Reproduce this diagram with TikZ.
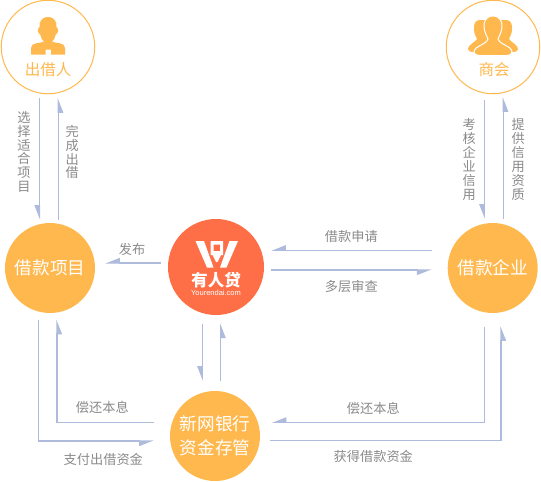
\documentclass[tikz,border=0pt]{standalone}
\usepackage{fontspec}
\setmainfont{Noto Sans CJK SC}
\setsansfont{Liberation Sans}
\usetikzlibrary{arrows.meta}
\definecolor{gold}{HTML}{FFB84D}
\definecolor{coral}{HTML}{FF6F47}
\definecolor{flowblue}{HTML}{AEBBDC}
\definecolor{labelgray}{HTML}{8A8A8A}
\begin{document}
\begin{tikzpicture}[x=1pt, y=-1pt,
	solid node/.style={circle, fill=gold, text=white, minimum size=90pt, inner sep=0pt, align=center, font=\fontsize{17.6}{24}\selectfont},
	ring node/.style={circle, draw=gold, line width=1pt, fill=white, minimum size=93.5pt, inner sep=0pt},
	ring text/.style={text=gold, inner sep=0pt, font=\fontsize{15.5}{18}\selectfont},
	flow/.style={draw=flowblue, line width=1.2pt, -{Triangle[harpoon, swap, length=13pt, width=10pt, flowblue]}},
	label/.style={text=labelgray, inner sep=0pt, align=center, font=\fontsize{13.2}{13.9}\selectfont}]
	\useasboundingbox (0, 0) rectangle (541, 482);
	% circles
	\node[ring node] (lender) at (48, 47) {};
	\node[ring node] (chamber) at (493, 47) {};
	\node[solid node] (project) at (50, 268) {借款项目};
	\node[solid node] (firm) at (492.7, 268) {借款企业};
	\node[solid node] (bank) at (215, 436) {新网银行\\资金存管};
	\node[circle, fill=coral, minimum size=96pt, inner sep=0pt] (platform) at (216, 267) {};
	\node[ring text] (lendertext) at (48, 69.5) {出借人};
	\node[ring text] (chambertext) at (494, 69.5) {商会};
	% person icon
	\fill[gold] (48, 17) .. controls (41, 17) and (39, 23) .. (39.5, 27) .. controls (37, 29) and (37.5, 33) .. (40.5, 35) .. controls (41, 38) and (42, 40) .. (44, 41.5) .. controls (41, 43.5) and (31, 42) .. (31, 48) -- (31, 54.5) -- (45.7, 54.5) -- (45.7, 49.5) -- (51, 49.5) -- (51, 54.5) -- (65, 54.5) -- (65, 48) .. controls (65, 42) and (55, 43.5) .. (52, 41.5) .. controls (54, 40) and (55, 38) .. (55.5, 35) .. controls (58.5, 33) and (59, 29) .. (56.5, 27) .. controls (57, 23) and (55, 17) .. (48, 17) -- cycle;
	% group icon
	\fill[gold] (479.5, 20) .. controls (475, 20) and (473.5, 25) .. (474, 29) .. controls (474, 34) and (476, 36) .. (477, 39) .. controls (474, 43) and (468, 45) .. (468, 49) .. controls (468, 51) and (470, 52) .. (474, 52) -- (512, 52) .. controls (516, 52) and (518, 51) .. (518, 49) .. controls (518, 45) and (512, 43) .. (509, 39) .. controls (510, 36) and (512, 34) .. (512, 29) .. controls (512.5, 25) and (511, 20) .. (506.5, 20) -- cycle;
	\fill[gold, draw=white, line width=1pt] (493, 16) .. controls (486, 16) and (483.5, 22) .. (484, 27) .. controls (484.5, 33) and (487, 36) .. (488, 39) .. controls (486, 45) and (474, 46) .. (474, 52) .. controls (474, 54) and (476, 55.5) .. (479, 55.5) -- (507, 55.5) .. controls (510, 55.5) and (512, 54) .. (512, 52) .. controls (512, 46) and (500, 45) .. (498, 39) .. controls (499, 36) and (501.5, 33) .. (502, 27) .. controls (502.5, 22) and (500, 16) .. (493, 16) -- cycle;
	% platform logo
	\fill[white] (195.5, 241) -- (204, 241) -- (213.5, 267.5) -- (207, 267.5) -- cycle;
	\fill[white] (238, 241) -- (229.5, 241) -- (220, 267.5) -- (226.5, 267.5) -- cycle;
	\fill[white, even odd rule] (210.5, 241) rectangle (223, 255) (213.5, 244.5) rectangle (220, 251);
	\fill[white] (212.5, 255) -- (221, 255) -- (217.5, 262) -- (216, 262) -- cycle;
	\node[inner sep=0pt, text=white, font=\fontsize{16.5}{18}\selectfont\bfseries] (platformname) at (216, 280) {有人贷};
	\node[inner sep=0pt, text=white, font=\fontsize{7.5}{9}\sffamily] (platformsite) at (216, 293) {Yourendai.com};
	% labels
	\node[label] (choose) at (24, 152) {选\\择\\适\\合\\项\\目};
	\node[label] (finish) at (72.3, 152) {完\\成\\出\\借};
	\node[label] (assess) at (469.3, 159.5) {考\\核\\企\\业\\信\\用};
	\node[label] (credit) at (518.3, 159.5) {提\\供\\信\\用\\资\\质};
	\node[label] (publish) at (132, 249) {发布};
	\node[label] (apply) at (351.3, 236.7) {借款申请};
	\node[label] (review) at (351.3, 286.3) {多层审查};
	\node[label] (repayl) at (102.3, 407.3) {偿还本息};
	\node[label] (pay) at (103.3, 459) {支付出借资金};
	\node[label] (repayr) at (373.3, 408.7) {偿还本息};
	\node[label] (obtain) at (373.3, 456.7) {获得借款资金};
	% connectors
	\draw[flow] ([xshift=-8.5pt, yshift=-4pt]lender.south) -- ([xshift=-10.5pt, yshift=3pt]project.north);
	\draw[flow] ([xshift=8.3pt, yshift=3pt]project.north) -- ([xshift=10.3pt, yshift=-4pt]lender.south);
	\draw[flow] ([xshift=-8.7pt, yshift=-6pt]chamber.south) -- ([xshift=-8.4pt, yshift=4pt]firm.north);
	\draw[flow] ([xshift=10.6pt, yshift=4pt]firm.north) -- ([xshift=10.3pt, yshift=-3pt]chamber.south);
	\draw[flow] ([xshift=-7pt, yshift=4pt]platform.west) -- ([xshift=10pt, yshift=5pt]project.east);
	\draw[flow] ([xshift=-16pt, yshift=17.7pt]firm.west) -- ([xshift=7pt, yshift=16.7pt]platform.east);
	\draw[flow] ([xshift=7pt, yshift=-3pt]platform.east) -- ([xshift=-16pt, yshift=-2pt]firm.west);
	\draw[flow] ([xshift=-13.7pt, yshift=-8.3pt]platform.south) -- ([xshift=-12.7pt, yshift=10pt]bank.north);
	\draw[flow] ([xshift=5.7pt, yshift=10pt]bank.north) -- ([xshift=4.7pt, yshift=-8.3pt]platform.south);
	\draw[flow] ([xshift=-16pt, yshift=13.7pt]bank.west) -| ([xshift=7pt, yshift=-6.5pt]project.south);
	\draw[flow] ([xshift=-11.7pt, yshift=-6.5pt]project.south) |- ([xshift=-16pt, yshift=-5pt]bank.west);
	\draw[flow] ([xshift=-8.4pt, yshift=-13.7pt]firm.south) |- ([xshift=11.7pt, yshift=13.7pt]bank.east);
	\draw[flow] ([xshift=10pt, yshift=-4.3pt]bank.east) -| ([xshift=8.3pt, yshift=-13pt]firm.south);
\end{tikzpicture}
\end{document}
